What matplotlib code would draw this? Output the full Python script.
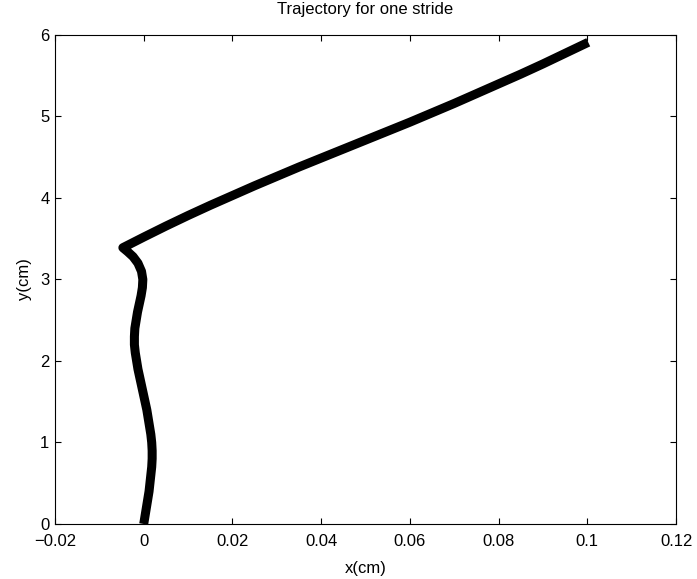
import numpy as np
import matplotlib
matplotlib.use("Agg")
import matplotlib.pyplot as plt

plt.rcParams['font.family'] = ['Liberation Sans', 'DejaVu Sans']

# stance phase: small lateral wobble while the foot rises
wave_x = [0.0000, 0.0003, 0.0006, 0.0009, 0.0012, 0.0014, 0.0016, 0.0018,
          0.0019, 0.0019, 0.0018, 0.0016, 0.0013, 0.0010, 0.0007, 0.0003,
          -0.0001, -0.0005, -0.0009, -0.0013, -0.0016, -0.0019, -0.0021,
          -0.0021, -0.0020, -0.0017, -0.0014, -0.0010, -0.0006, -0.0003,
          -0.0002, -0.0005, -0.0013, -0.0024, -0.0036, -0.0047]
wave_y = [0.00, 0.10, 0.20, 0.30, 0.40, 0.50, 0.60, 0.70,
          0.80, 0.90, 1.00, 1.10, 1.20, 1.30, 1.40, 1.50,
          1.60, 1.70, 1.80, 1.90, 2.00, 2.10, 2.20,
          2.30, 2.40, 2.50, 2.60, 2.70, 2.80, 2.90,
          3.00, 3.10, 3.20, 3.28, 3.34, 3.39]

# swing phase: foot sweeps forward and up
swing_x = [0.000, 0.005, 0.010, 0.015, 0.020, 0.025, 0.030, 0.035, 0.040,
           0.045, 0.050, 0.055, 0.060, 0.065, 0.070, 0.075, 0.080, 0.085,
           0.090, 0.095, 0.1002]
swing_y = [3.52, 3.655, 3.785, 3.91, 4.03, 4.15, 4.265, 4.38, 4.49,
           4.60, 4.71, 4.82, 4.93, 5.045, 5.16, 5.28, 5.40, 5.52,
           5.645, 5.775, 5.91]

x = np.array(wave_x + swing_x)
y = np.array(wave_y + swing_y)

fig = plt.figure(figsize=(6.97, 5.79), dpi=100)
ax = fig.add_axes([0.0789, 0.095, 0.8911, 0.8446])
ax.plot(x, y, color='black', linewidth=6.5, solid_joinstyle='round', solid_capstyle='butt')

ax.set_xlim(-0.02, 0.12)
ax.set_ylim(0, 6)
ax.set_xticks([-0.02, 0, 0.02, 0.04, 0.06, 0.08, 0.1, 0.12])
ax.set_xticklabels(['\u22120.02', '0', '0.02', '0.04', '0.06', '0.08', '0.1', '0.12'])
ax.set_yticks([0, 1, 2, 3, 4, 5, 6])
ax.tick_params(direction='in', top=True, right=True, length=4, labelsize=12)
ax.tick_params(axis='x', pad=7)
ax.tick_params(axis='y', pad=4)
for s in ax.spines.values():
    s.set_linewidth(0.8)

ax.set_xlabel('x(cm)', fontsize=12, labelpad=9)
ax.set_ylabel('y(cm)', fontsize=12, labelpad=6)
ax.set_title('Trajectory for one stride', fontsize=12, pad=15)

fig.savefig('out.png', dpi=100)
